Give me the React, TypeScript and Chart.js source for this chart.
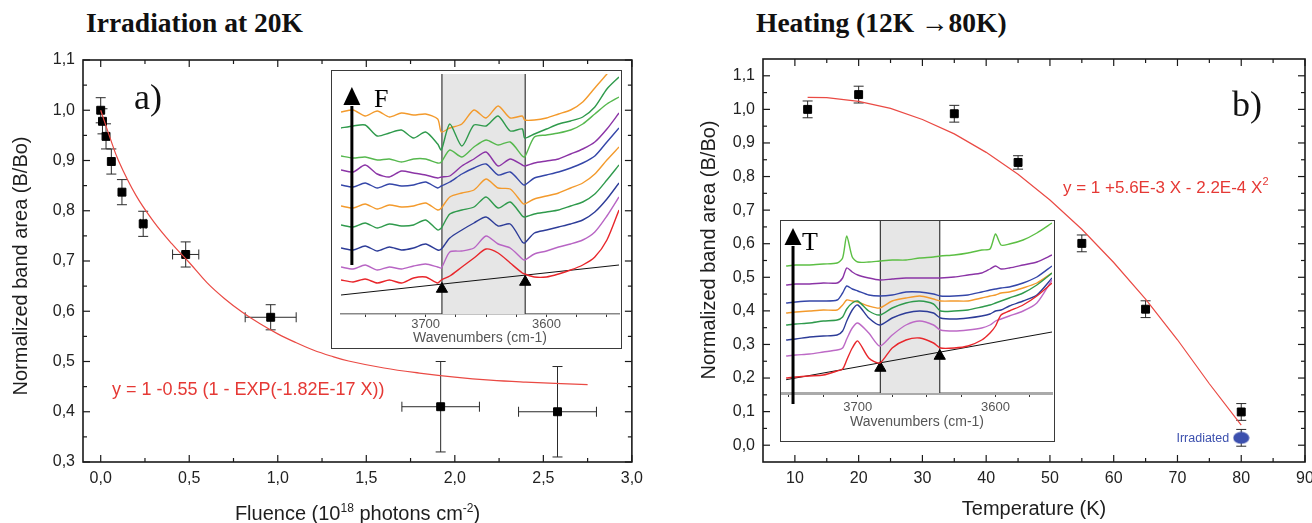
import React, { useEffect, useRef } from 'react';
import { Chart, registerables } from 'chart.js';
Chart.register(...registerables);

const SANS = "'Liberation Sans', Arial, sans-serif";
const SERIF = "'Liberation Serif', 'Times New Roman', serif";

// ---------------- Panel a) Irradiation at 20K ----------------
const fluence = [0.0, 0.01, 0.03, 0.06, 0.12, 0.24, 0.48, 0.96, 1.92, 2.58];
const bandAreaA = [1.0, 0.978, 0.948, 0.898, 0.837, 0.774, 0.713, 0.588, 0.41, 0.4];
const bandAreaAErr = [0.025, 0.025, 0.025, 0.025, 0.025, 0.025, 0.025, 0.025, 0.09, 0.09];
const fluenceErr = [0, 0, 0, 0, 0, 0.016, 0.074, 0.144, 0.219, 0.22];
const fitAX = [0, 0.05, 0.1, 0.2, 0.3, 0.4, 0.5, 0.6, 0.7, 0.8, 0.9, 1.0, 1.1, 1.2, 1.3, 1.4, 1.6, 1.8, 2.0, 2.2, 2.4, 2.6, 2.75];
const fitAY = [1.0, 0.948, 0.9, 0.83, 0.778, 0.735, 0.697, 0.657, 0.625, 0.598, 0.575, 0.555, 0.538, 0.523, 0.511, 0.501, 0.487, 0.477, 0.469, 0.463, 0.459, 0.456, 0.454];
const fluenceTicks = [0, 0.5, 1.0, 1.5, 2.0, 2.5, 3.0];
const fluenceMinor = [0.25, 0.75, 1.25, 1.75, 2.25, 2.75];
const areaTicksA = [0.3, 0.4, 0.5, 0.6, 0.7, 0.8, 0.9, 1.0, 1.1];
const areaMinorA = [0.35, 0.45, 0.55, 0.65, 0.75, 0.85, 0.95, 1.05];

// inset a) spectra (arbitrary absorbance units, offset)
const wnA = [3770, 3760, 3750, 3740, 3730, 3720, 3710, 3700, 3690, 3687, 3680, 3670, 3660, 3650, 3640, 3630, 3620, 3618, 3610, 3600, 3590, 3580, 3570, 3560, 3550, 3540];
const specA1 = [34, 32, 35, 31, 34, 31, 36, 37, 31, 34, 38, 47, 56, 65, 61, 51, 41, 40, 37, 37, 40, 44, 49, 57, 74, 104];
const specA2 = [47, 45, 49, 44, 47, 45, 48, 50, 47, 46, 62, 63, 66, 78, 70, 66, 55, 54, 60, 63, 67, 70, 74, 82, 98, 117];
const specA3 = [66, 64, 68, 63, 67, 64, 66, 70, 64, 65, 76, 84, 91, 97, 88, 90, 72, 71, 81, 84, 87, 90, 94, 102, 115, 131];
const specA4 = [89, 87, 91, 86, 90, 88, 89, 94, 84, 86, 100, 104, 107, 117, 106, 112, 98, 97, 100, 102, 104, 108, 112, 120, 134, 149];
const specA5 = [108, 106, 110, 105, 109, 107, 108, 111, 104, 106, 117, 121, 124, 135, 126, 125, 111, 110, 115, 118, 121, 126, 131, 140, 154, 167];
const specA6 = [129, 127, 131, 126, 130, 128, 129, 132, 126, 128, 132, 140, 146, 150, 139, 142, 130, 129, 136, 139, 142, 146, 151, 158, 172, 186];
const specA7 = [144, 142, 149, 140, 137, 143, 141, 139, 136, 137, 138, 148, 155, 162, 148, 155, 149, 148, 151, 153, 155, 160, 165, 172, 185, 201];
const specA8 = [158, 156, 157, 154, 155, 152, 155, 155, 151, 152, 164, 157, 167, 174, 169, 172, 158, 157, 177, 179, 181, 184, 190, 200, 210, 217];
const specA9 = [186, 188, 189, 178, 181, 184, 176, 182, 170, 164, 190, 168, 189, 188, 198, 183, 185, 176, 180, 185, 190, 193, 197, 207, 225, 237];
const specA10 = [202, 204, 198, 203, 197, 201, 199, 200, 195, 182, 186, 190, 204, 196, 208, 196, 198, 194, 194, 196, 200, 204, 212, 226, 240, 255];
const baselineAX = [3770, 3540];
const baselineAY = [19, 49];
const bandA = [3686.5, 3617.6];
const triAX = [3686.5, 3617.6];
const triAY = [25, 32];
const insetTicksA = [3750, 3725, 3700, 3675, 3650, 3625, 3600, 3575, 3550];

// ---------------- Panel b) Heating 12K -> 80K ----------------
const temperature = [12, 20, 35, 45, 55, 65, 80];
const bandAreaB = [1.0, 1.044, 0.987, 0.842, 0.601, 0.405, 0.099];
const bandAreaBErr = [0.025, 0.025, 0.025, 0.02, 0.025, 0.025, 0.025];
const irradT = [80];
const irradB = [0.022];
const irradErr = [0.025];
const fitBX = [12, 15, 20, 25, 30, 35, 40, 45, 50, 55, 60, 65, 70, 75, 80];
const fitBY = [1.036, 1.035, 1.024, 1.003, 0.97, 0.927, 0.872, 0.807, 0.73, 0.643, 0.544, 0.435, 0.314, 0.183, 0.06];
const tempTicks = [10, 20, 30, 40, 50, 60, 70, 80, 90];
const tempMinor = [15, 25, 35, 45, 55, 65, 75, 85];
const areaTicksB = [0.0, 0.1, 0.2, 0.3, 0.4, 0.5, 0.6, 0.7, 0.8, 0.9, 1.0, 1.1];
const areaMinorB = [0.05, 0.15, 0.25, 0.35, 0.45, 0.55, 0.65, 0.75, 0.85, 0.95, 1.05];

// inset b) spectra
const wnB = [3752, 3745, 3735, 3725, 3715, 3711, 3708, 3704, 3700, 3692, 3684, 3675, 3665, 3655, 3645, 3640, 3630, 3620, 3610, 3604, 3600, 3596, 3590, 3580, 3570, 3559];
const specB1 = [15, 16, 17, 18, 22, 24, 33, 45, 52, 35, 30, 45, 53, 55, 50, 45, 45, 47, 53, 60, 67, 78, 82, 88, 97, 110];
const specB2 = [37, 38, 39, 41, 43, 45, 54, 65, 70, 60, 47, 58, 68, 72, 68, 63, 62, 63, 65, 68, 72, 74, 77, 82, 90, 113];
const specB3 = [53, 54, 56, 57, 58, 62, 72, 83, 88, 75, 68, 75, 80, 82, 80, 75, 74, 75, 77, 79, 82, 83, 87, 92, 98, 115];
const specB4 = [68, 69, 70, 72, 73, 76, 84, 90, 92, 82, 78, 85, 90, 92, 89, 82, 82, 83, 86, 88, 90, 92, 95, 100, 108, 120];
const specB5 = [80, 81, 82, 83, 83, 88, 93, 92, 91, 87, 85, 92, 95, 97, 94, 92, 92, 92, 95, 97, 98, 100, 101, 105, 110, 120];
const specB6 = [90, 91, 92, 92, 93, 100, 107, 104, 102, 98, 97, 98, 101, 101, 99, 97, 97, 98, 101, 103, 104, 105, 106, 110, 116, 127];
const specB7 = [108, 109, 109, 110, 110, 115, 125, 121, 118, 115, 113, 114, 115, 115, 115, 115, 116, 118, 120, 124, 127, 124, 125, 128, 131, 138];
const specB8 = [127, 128, 128, 129, 130, 135, 157, 136, 131, 131, 132, 133, 133, 135, 136, 137, 138, 140, 143, 144, 159, 148, 149, 153, 160, 170];
const baselineBX = [3752, 3559];
const baselineBY = [13.3, 61];
const bandB = [3683.6, 3640.5];
const triBX = [3683.6, 3640.5];
const triBY = [25, 37];
const insetTicksB = [3750, 3725, 3700, 3675, 3650, 3625, 3600, 3575];

const RED_FIT = '#ea4a44';
const RED_TXT = '#e53935';
const IRR_BLUE = '#3c50ae';

type Seg = { t: string; sup?: boolean };

function drawSegs(ctx: CanvasRenderingContext2D, segs: Seg[], x: number, y: number, size: number, align: 'left' | 'center', color: string) {
  const supSize = Math.round(size * 0.62);
  let total = 0;
  const widths = segs.map((s) => {
    ctx.font = `${s.sup ? supSize : size}px ${SANS}`;
    const w = ctx.measureText(s.t).width;
    total += w;
    return w;
  });
  let cx = align === 'center' ? x - total / 2 : x;
  ctx.fillStyle = color;
  ctx.textBaseline = 'alphabetic';
  ctx.textAlign = 'left';
  segs.forEach((s, i) => {
    ctx.font = `${s.sup ? supSize : size}px ${SANS}`;
    ctx.fillText(s.t, cx, s.sup ? y - size * 0.42 : y);
    cx += widths[i];
  });
}

function vText(ctx: CanvasRenderingContext2D, t: string, cx: number, cy: number, size: number) {
  ctx.save();
  ctx.translate(cx, cy);
  ctx.rotate(-Math.PI / 2);
  ctx.font = `${size}px ${SANS}`;
  ctx.fillStyle = '#1e1e1e';
  ctx.textAlign = 'center';
  ctx.textBaseline = 'middle';
  ctx.fillText(t, 0, 0);
  ctx.restore();
}

const comma = (v: number) => v.toFixed(1).replace('.', ',');

interface ErrSet { x: number[]; y: number[]; yerr: number[]; xerr?: number[] }

function mainChart(canvas: HTMLCanvasElement, o: any) {
  const line = (ctx: CanvasRenderingContext2D, a: number, b: number, c: number, d: number) => {
    ctx.beginPath();
    ctx.moveTo(a, b);
    ctx.lineTo(c, d);
    ctx.stroke();
  };
  const plugin = {
    id: 'frame_' + o.id,
    beforeDatasetsDraw(chart: any) {
      const { ctx, scales } = chart;
      const x = scales.x, y = scales.y;
      ctx.save();
      ctx.strokeStyle = '#2a2a2a';
      ctx.lineWidth = 1;
      (o.errors as ErrSet[]).forEach((e) => {
        for (let i = 0; i < e.x.length; i++) {
          const px = x.getPixelForValue(e.x[i]);
          const py = y.getPixelForValue(e.y[i]);
          if (e.yerr[i] > 0) {
            const y0 = y.getPixelForValue(e.y[i] - e.yerr[i]);
            const y1 = y.getPixelForValue(e.y[i] + e.yerr[i]);
            line(ctx, px, y0, px, y1);
            line(ctx, px - 5, y0, px + 5, y0);
            line(ctx, px - 5, y1, px + 5, y1);
          }
          if (e.xerr && e.xerr[i] > 0) {
            const x0 = x.getPixelForValue(e.x[i] - e.xerr[i]);
            const x1 = x.getPixelForValue(e.x[i] + e.xerr[i]);
            line(ctx, x0, py, x1, py);
            line(ctx, x0, py - 5, x0, py + 5);
            line(ctx, x1, py - 5, x1, py + 5);
          }
        }
      });
      ctx.restore();
    },
    afterDraw(chart: any) {
      const { ctx, chartArea: a, scales } = chart;
      const x = scales.x, y = scales.y;
      ctx.save();
      ctx.strokeStyle = '#1a1a1a';
      ctx.lineWidth = 1.6;
      ctx.strokeRect(a.left, a.top, a.right - a.left, a.bottom - a.top);
      ctx.lineWidth = 1.2;
      const tx = (vals: number[], len: number) =>
        vals.forEach((v) => {
          const p = x.getPixelForValue(v);
          line(ctx, p, a.bottom, p, a.bottom - len);
          line(ctx, p, a.top, p, a.top + len);
        });
      const ty = (vals: number[], len: number) =>
        vals.forEach((v) => {
          const p = y.getPixelForValue(v);
          line(ctx, a.left, p, a.left + len, p);
          line(ctx, a.right, p, a.right - len, p);
        });
      tx(o.xMajor, 7);
      tx(o.xMinor, 4);
      ty(o.yMajor, 7);
      ty(o.yMinor, 4);
      o.annotate(ctx, chart);
      ctx.restore();
    },
  };
  return new Chart(canvas, {
    type: 'scatter',
    data: { datasets: o.datasets },
    options: {
      responsive: false,
      animation: false,
      events: [],
      layout: { padding: o.padding, autoPadding: false },
      plugins: { legend: { display: false }, tooltip: { enabled: false }, title: { display: false } },
      scales: {
        x: {
          type: 'linear',
          min: o.xMin,
          max: o.xMax,
          grid: { display: false, drawTicks: false },
          border: { display: false },
          ticks: { font: { family: SANS, size: 16 }, color: '#222', padding: 7, maxRotation: 0, autoSkip: false, callback: o.xFmt },
          afterBuildTicks: (s: any) => { s.ticks = o.xMajor.map((v: number) => ({ value: v })); },
          afterFit: (s: any) => { s.height = o.xHeight; },
        },
        y: {
          type: 'linear',
          min: o.yMin,
          max: o.yMax,
          grid: { display: false, drawTicks: false },
          border: { display: false },
          ticks: { font: { family: SANS, size: 16 }, color: '#222', padding: 8, autoSkip: false, callback: o.yFmt },
          afterBuildTicks: (s: any) => { s.ticks = o.yMajor.map((v: number) => ({ value: v })); },
          afterFit: (s: any) => { s.width = o.yWidth; },
        },
      },
    } as any,
    plugins: [plugin as any],
  });
}

function insetChart(canvas: HTMLCanvasElement, o: any) {
  const plugin = {
    id: 'inset_' + o.id,
    beforeDatasetsDraw(chart: any) {
      const { ctx, chartArea: a, scales } = chart;
      const x = scales.x;
      const p0 = x.getPixelForValue(o.band[0]);
      const p1 = x.getPixelForValue(o.band[1]);
      ctx.save();
      ctx.fillStyle = '#e6e6e6';
      ctx.fillRect(Math.min(p0, p1), a.top, Math.abs(p1 - p0), a.bottom - a.top);
      ctx.strokeStyle = '#3a3a3a';
      ctx.lineWidth = 1.2;
      [p0, p1].forEach((p) => {
        ctx.beginPath();
        ctx.moveTo(p, a.top);
        ctx.lineTo(p, a.bottom);
        ctx.stroke();
      });
      ctx.restore();
    },
    afterDraw(chart: any) {
      const { ctx, scales } = chart;
      const x = scales.x, y = scales.y;
      const ax = x.getPixelForValue(o.arrow.x);
      const yb = y.getPixelForValue(o.arrow.y0);
      const yt = y.getPixelForValue(o.arrow.y1);
      const yh = y.getPixelForValue(o.arrow.head);
      ctx.save();
      ctx.strokeStyle = '#000';
      ctx.fillStyle = '#000';
      ctx.lineWidth = 3;
      ctx.beginPath();
      ctx.moveTo(ax, yb);
      ctx.lineTo(ax, yh + 1);
      ctx.stroke();
      ctx.beginPath();
      ctx.moveTo(ax, yt);
      ctx.lineTo(ax - 8.5, yh);
      ctx.lineTo(ax + 8.5, yh);
      ctx.closePath();
      ctx.fill();
      ctx.font = `26px ${SERIF}`;
      ctx.textAlign = 'left';
      ctx.textBaseline = 'middle';
      ctx.fillText(o.label, o.labelX, o.labelY);
      ctx.restore();
    },
  };
  const datasets: any[] = o.lines.map((l: any) => ({
    data: o.grid.map((g: number, i: number) => ({ x: g, y: l.data[i] })),
    showLine: true,
    borderColor: l.color,
    borderWidth: 1.4,
    pointRadius: 0,
    tension: 0.25,
  }));
  datasets.push({
    data: o.baseX.map((g: number, i: number) => ({ x: g, y: o.baseY[i] })),
    showLine: true,
    borderColor: '#111',
    borderWidth: 1,
    pointRadius: 0,
  });
  datasets.push({
    data: o.triX.map((g: number, i: number) => ({ x: g, y: o.triY[i] })),
    showLine: false,
    pointStyle: 'triangle',
    pointRadius: 6.5,
    backgroundColor: '#000',
    borderColor: '#000',
    borderWidth: 1,
  });
  return new Chart(canvas, {
    type: 'scatter',
    data: { datasets },
    options: {
      responsive: false,
      animation: false,
      events: [],
      layout: { padding: o.padding, autoPadding: false },
      plugins: { legend: { display: false }, tooltip: { enabled: false } },
      scales: {
        x: {
          type: 'linear',
          reverse: true,
          min: o.xMin,
          max: o.xMax,
          grid: { display: true, drawOnChartArea: false, drawTicks: true, tickLength: o.tickLen, color: '#333', lineWidth: 1 },
          border: { display: true, color: o.axisColor, width: o.axisWidth },
          ticks: {
            font: { family: SANS, size: 13 },
            color: '#555',
            padding: o.tickPad,
            maxRotation: 0,
            autoSkip: false,
            callback: (v: number) => (v % 100 === 0 ? String(v) : ''),
          },
          title: {
            display: true,
            text: 'Wavenumbers (cm-1)',
            font: { family: SANS, size: 14 },
            color: '#555',
            padding: { top: 0, bottom: o.titlePad },
          },
          afterBuildTicks: (s: any) => { s.ticks = o.ticks.map((v: number) => ({ value: v })); },
          afterFit: (s: any) => { s.height = o.xHeight; },
        },
        y: { type: 'linear', display: false, min: 0, max: o.yMax },
      },
    } as any,
    plugins: [plugin as any],
  });
}

export default function App() {
  const aRef = useRef<HTMLCanvasElement>(null);
  const bRef = useRef<HTMLCanvasElement>(null);
  const iaRef = useRef<HTMLCanvasElement>(null);
  const ibRef = useRef<HTMLCanvasElement>(null);

  useEffect(() => {
    const charts: Chart[] = [];
    const sq = { pointStyle: 'rect', pointRadius: 5.6, backgroundColor: '#000', borderColor: '#000', borderWidth: 1, showLine: false };

    charts.push(
      mainChart(aRef.current!, {
        id: 'a',
        xMin: -0.1, xMax: 3.0, yMin: 0.3, yMax: 1.1,
        xMajor: fluenceTicks, xMinor: fluenceMinor, yMajor: areaTicksA, yMinor: areaMinorA,
        xFmt: (v: number) => comma(v), yFmt: (v: number) => comma(v),
        padding: { top: 20, right: 18, left: 0, bottom: 0 }, yWidth: 83, xHeight: 61,
        errors: [{ x: fluence, y: bandAreaA, yerr: bandAreaAErr, xerr: fluenceErr }],
        datasets: [
          { data: fitAX.map((v, i) => ({ x: v, y: fitAY[i] })), showLine: true, borderColor: RED_FIT, borderWidth: 1.2, pointRadius: 0, tension: 0.4 },
          { data: fluence.map((v, i) => ({ x: v, y: bandAreaA[i] })), ...sq },
        ],
        annotate: (ctx: CanvasRenderingContext2D) => {
          ctx.font = `36px ${SERIF}`;
          ctx.fillStyle = '#111';
          ctx.textAlign = 'left';
          ctx.textBaseline = 'alphabetic';
          ctx.fillText('a)', 134, 69);
          drawSegs(ctx, [{ t: 'y = 1 -0.55 (1 - EXP(-1.82E-17 X))' }], 112, 354.5, 18, 'left', RED_TXT);
          drawSegs(ctx, [{ t: 'Fluence (10' }, { t: '18', sup: true }, { t: ' photons cm' }, { t: '-2', sup: true }, { t: ')' }], 357.5, 480, 20, 'center', '#1e1e1e');
          vText(ctx, 'Normalized band area (B/Bo)', 21, 226, 20);
        },
      })
    );

    const ell = document.createElement('canvas');
    ell.width = 17;
    ell.height = 13;
    const ec = ell.getContext('2d')!;
    ec.fillStyle = IRR_BLUE;
    ec.beginPath();
    ec.ellipse(8.5, 6.5, 8, 6, 0, 0, Math.PI * 2);
    ec.fill();

    charts.push(
      mainChart(bRef.current!, {
        id: 'b',
        xMin: 5, xMax: 90, yMin: -0.05, yMax: 1.15,
        xMajor: tempTicks, xMinor: tempMinor, yMajor: areaTicksB, yMinor: areaMinorB,
        xFmt: (v: number) => String(Math.round(v)), yFmt: (v: number) => comma(v),
        padding: { top: 19, right: 25, left: 0, bottom: 0 }, yWidth: 113, xHeight: 61,
        errors: [
          { x: temperature, y: bandAreaB, yerr: bandAreaBErr },
          { x: irradT, y: irradB, yerr: irradErr },
        ],
        datasets: [
          { data: fitBX.map((v, i) => ({ x: v, y: fitBY[i] })), showLine: true, borderColor: RED_FIT, borderWidth: 1.2, pointRadius: 0 },
          { data: temperature.map((v, i) => ({ x: v, y: bandAreaB[i] })), ...sq },
          { data: irradT.map((v, i) => ({ x: v, y: irradB[i] })), showLine: false, pointStyle: ell, pointRadius: 8 },
        ],
        annotate: (ctx: CanvasRenderingContext2D, chart: any) => {
          ctx.font = `36px ${SERIF}`;
          ctx.fillStyle = '#111';
          ctx.textAlign = 'left';
          ctx.textBaseline = 'alphabetic';
          ctx.fillText('b)', 582, 76);
          drawSegs(ctx, [{ t: 'y = 1 +5.6E-3 X - 2.2E-4 X' }, { t: '2', sup: true }], 413, 152.5, 17, 'left', RED_TXT);
          drawSegs(ctx, [{ t: 'Temperature (K)' }], 384, 475, 20, 'center', '#1e1e1e');
          vText(ctx, 'Normalized band area (B/Bo)', 59, 210, 20);
          const px = chart.scales.x.getPixelForValue(irradT[0]);
          const py = chart.scales.y.getPixelForValue(irradB[0]);
          ctx.font = `12.5px ${SANS}`;
          ctx.fillStyle = IRR_BLUE;
          ctx.textAlign = 'right';
          ctx.textBaseline = 'middle';
          ctx.fillText('Irradiated', px - 12, py + 1);
        },
      })
    );

    charts.push(
      insetChart(iaRef.current!, {
        id: 'ia',
        grid: wnA,
        lines: [
          { data: specA1, color: '#e8262b' },
          { data: specA2, color: '#b865c4' },
          { data: specA3, color: '#2d3c98' },
          { data: specA4, color: '#2f9a4c' },
          { data: specA5, color: '#f39a2c' },
          { data: specA6, color: '#3446a8' },
          { data: specA7, color: '#8b34a6' },
          { data: specA8, color: '#56b84e' },
          { data: specA9, color: '#2f9a4c' },
          { data: specA10, color: '#f39a2c' },
        ],
        baseX: baselineAX, baseY: baselineAY, triX: triAX, triY: triAY,
        band: bandA, ticks: insetTicksA,
        xMin: 3540, xMax: 3770, yMax: 240,
        padding: { left: 9, right: 1, top: 3, bottom: 0 }, xHeight: 33,
        tickLen: 3, tickPad: 0, titlePad: 0, axisColor: '#888', axisWidth: 1.5,
        arrow: { x: 3761, y0: 49, y1: 227, head: 209 },
        label: 'F', labelX: 42, labelY: 29,
      })
    );

    charts.push(
      insetChart(ibRef.current!, {
        id: 'ib',
        grid: wnB,
        lines: [
          { data: specB1, color: '#e8262b' },
          { data: specB2, color: '#bd6ac6' },
          { data: specB3, color: '#2d3c98' },
          { data: specB4, color: '#2f9a4c' },
          { data: specB5, color: '#f39a2c' },
          { data: specB6, color: '#3446a8' },
          { data: specB7, color: '#8b34a6' },
          { data: specB8, color: '#5cbf44' },
        ],
        baseX: baselineBX, baseY: baselineBY, triX: triBX, triY: triBY,
        band: bandB, ticks: insetTicksB,
        xMin: 3559, xMax: 3755, yMax: 172,
        padding: { left: 1, right: 1, top: 0, bottom: 0 }, xHeight: 47,
        tickLen: 4, tickPad: 3, titlePad: 9, axisColor: '#aaaaaa', axisWidth: 3,
        arrow: { x: 3747, y0: -11, y1: 165, head: 148 },
        label: 'T', labelX: 21, labelY: 22,
      })
    );

    return () => charts.forEach((c) => c.destroy());
  }, []);

  const heading: React.CSSProperties = {
    position: 'absolute',
    top: 9,
    fontFamily: SERIF,
    fontWeight: 'bold',
    fontSize: 27.5,
    lineHeight: '27.5px',
    color: '#111',
    whiteSpace: 'nowrap',
  };
  const insetBox: React.CSSProperties = {
    position: 'absolute',
    boxSizing: 'border-box',
    border: '1.5px solid #3a3a3a',
    background: '#fff',
  };

  return (
    <div style={{ position: 'fixed', left: 0, top: 0, width: 1312, height: 523, overflow: 'hidden', background: '#fff' }}>
      <div style={{ ...heading, left: 86 }}>Irradiation at 20K</div>
      <div style={{ ...heading, left: 756 }}>Heating (12K →80K)</div>
      <canvas ref={aRef} width={650} height={483} style={{ position: 'absolute', left: 0, top: 40 }} />
      <canvas ref={bRef} width={680} height={483} style={{ position: 'absolute', left: 650, top: 40 }} />
      <div style={{ ...insetBox, left: 331, top: 70, width: 291, height: 279 }}>
        <canvas ref={iaRef} width={288} height={276} style={{ display: 'block' }} />
      </div>
      <div style={{ ...insetBox, left: 780, top: 220, width: 275, height: 222 }}>
        <canvas ref={ibRef} width={272} height={219} style={{ display: 'block' }} />
      </div>
    </div>
  );
}
